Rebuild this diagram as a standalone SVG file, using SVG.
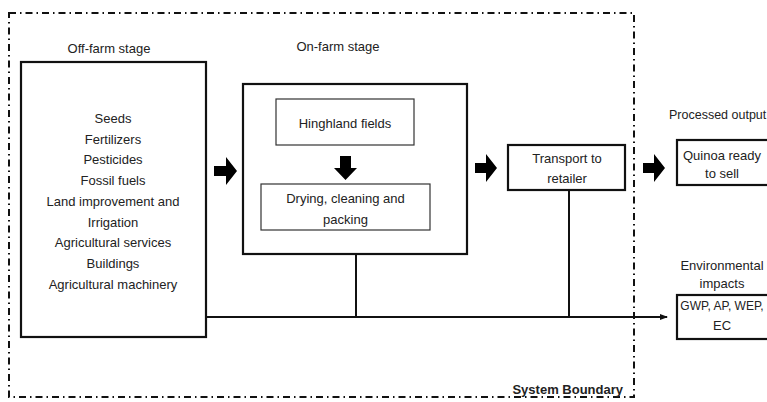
<svg xmlns="http://www.w3.org/2000/svg" width="767" height="402" viewBox="0 0 767 402">
<defs>
<style>
text{font-family:"Liberation Sans",Arial,sans-serif;font-size:13px;fill:#222;text-anchor:middle;dominant-baseline:central}
.box{fill:#fff;stroke:#111;stroke-width:2.2}
.inner{fill:#fff;stroke:#333;stroke-width:1.2}
.bnd{fill:none;stroke:#111;stroke-width:2;stroke-dasharray:7 4 1.5 4}
.ln{fill:none;stroke:#111;stroke-width:2}
.blk{fill:#000}
</style>
<marker id="ah" markerWidth="8" markerHeight="8" refX="7" refY="4" orient="auto" markerUnits="userSpaceOnUse">
<path d="M0,1 L8,4 L0,7 Z" fill="#111"/>
</marker>
</defs>
<rect width="767" height="402" fill="#fff"/>

<g id="boundary">
<path class="bnd" d="M9,13 H634 V397 H9 Z"/>
<text x="623" y="389" style="font-weight:bold;text-anchor:end">System Boundary</text>
</g>

<g id="offfarm">
<text x="109" y="48">Off-farm stage</text>
<rect class="box" x="21" y="62" width="185" height="275"/>
<text x="113" y="118">Seeds</text>
<text x="113" y="139">Fertilizers</text>
<text x="113" y="159">Pesticides</text>
<text x="113" y="180">Fossil fuels</text>
<text x="113" y="201">Land improvement and</text>
<text x="113" y="222">Irrigation</text>
<text x="113" y="242">Agricultural services</text>
<text x="113" y="263">Buildings</text>
<text x="113" y="284">Agricultural machinery</text>
</g>

<g id="onfarm">
<text x="338" y="46">On-farm stage</text>
<rect class="box" x="243" y="84" width="224" height="170"/>
</g>

<g id="highland">
<rect class="inner" x="276" y="99" width="138" height="46"/>
<text x="345" y="123">Hinghland fields</text>
</g>

<g id="drying">
<rect class="inner" x="261" y="184" width="169" height="46"/>
<text x="345.5" y="198">Drying, cleaning and</text>
<text x="345.5" y="219">packing</text>
</g>

<g id="transport">
<rect class="box" x="508" y="145" width="117" height="45"/>
<text x="567" y="158">Transport to</text>
<text x="567" y="178">retailer</text>
</g>

<g id="output">
<text x="669" y="115" style="text-anchor:start;font-size:12.5px">Processed output</text>
<rect class="box" x="677" y="140" width="95" height="45"/>
<text x="722" y="155">Quinoa ready</text>
<text x="722" y="173">to sell</text>
</g>

<g id="impacts">
<text x="722" y="265">Environmental</text>
<text x="722" y="283">impacts</text>
<rect class="box" x="677" y="295" width="95" height="44"/>
<text x="722" y="306" style="font-size:12px">GWP, AP, WEP,</text>
<text x="722" y="325">EC</text>
</g>

<g id="connectors">
<path class="ln" d="M206,317 H667" marker-end="url(#ah)"/>
<path class="ln" d="M356,254 V317"/>
<path class="ln" d="M569,190 V317"/>
<path class="blk" d="M214,166 H226 V157 L237,171 L226,185 V176 H214 Z"/>
<path class="blk" d="M340,156 H351 V168 H357 L345.5,180 L334,168 H340 Z"/>
<path class="blk" d="M475,163 H486 V154 L497,168 L486,182 V173 H475 Z"/>
<path class="blk" d="M643,163 H654 V154 L665,168 L654,182 V173 H643 Z"/>
</g>
</svg>
